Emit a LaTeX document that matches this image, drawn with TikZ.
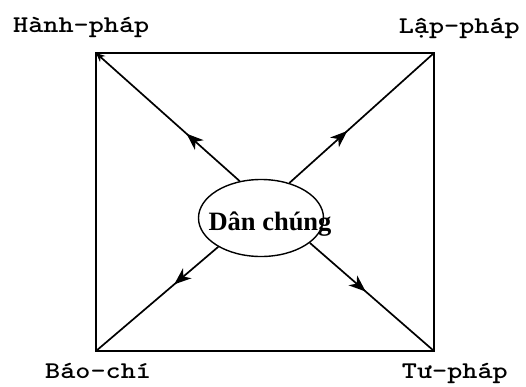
\documentclass[tikz,border=0pt]{standalone}
\usepackage{fontspec}
\usepackage{graphicx}
\setmainfont{Liberation Serif}
\usetikzlibrary{shapes.geometric,arrows.meta,decorations.markings}
\newcommand{\lbltxt}[1]{\scalebox{1.2}[1]{\ttfamily\bfseries\fontsize{24pt}{24pt}\selectfont #1}}
\tikzset{
  box/.style={line width=1.5pt},
  conn/.style={line width=1.7pt},
  midarrow/.style={postaction={decorate},decoration={markings,
     mark=at position #1 with {\arrow{Stealth[length=17pt,width=13pt,inset=5pt]}}}},
  lab/.style={inner sep=0pt},
  blob/.style={draw,ellipse,line width=1.4pt,minimum width=125pt,minimum height=77pt,inner sep=0pt}
}
\begin{document}
\begin{tikzpicture}[x=1pt,y=-1pt]
\useasboundingbox (0,0) rectangle (526,386);
\coordinate (TL) at (96,53);
\coordinate (TR) at (434,53);
\coordinate (BL) at (96,351);
\coordinate (BR) at (434,351);
\draw[box] (TL) -- (TR) -- (BR) -- (BL) -- cycle;
\node[blob] (dan) at (261,218) {};
\node[anchor=base,inner sep=0pt,font=\bfseries\fontsize{26.5pt}{26.5pt}\selectfont] (dantext) at (270,230) {Dân chúng};
\draw[conn,midarrow=0.37,-{Stealth[length=9pt,width=8pt]}] (dan.120) -- (TL);
\draw[conn,midarrow=0.40] (dan.51) -- (TR);
\draw[conn,midarrow=0.36] (dan.214) -- (BL);
\draw[conn,midarrow=0.45] (dan.333) -- (BR);
\node[lab,anchor=base west] (hanh) at (13,32) {\lbltxt{Hành-pháp}};
\node[lab,anchor=base east] (lap) at (520,33) {\lbltxt{Lập-pháp}};
\node[lab,anchor=base west] (bao) at (45,378) {\lbltxt{Báo-chí}};
\node[lab,anchor=base east] (tu) at (508,378) {\lbltxt{Tư-pháp}};
\end{tikzpicture}
\end{document}
